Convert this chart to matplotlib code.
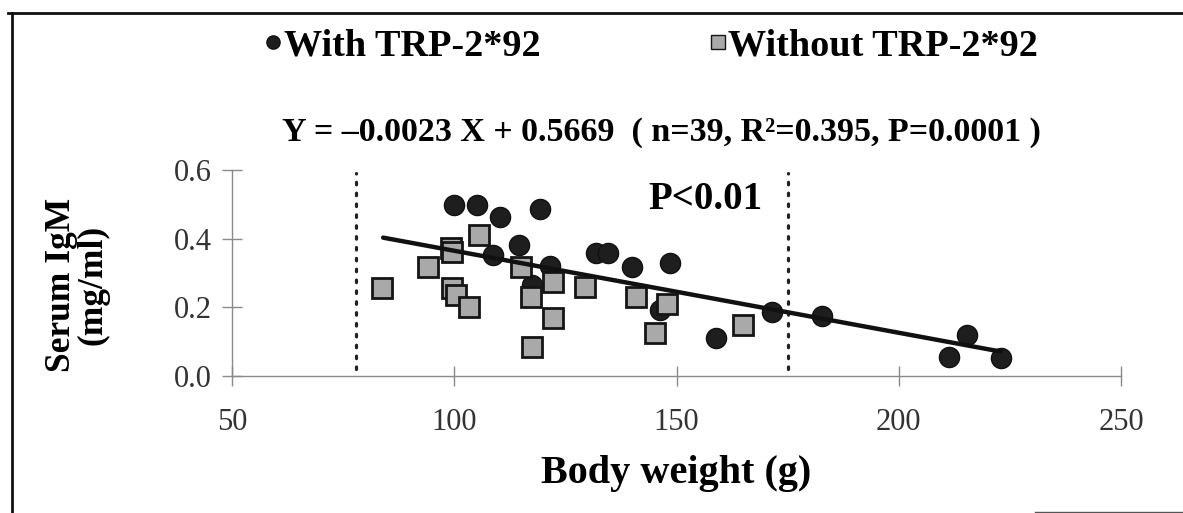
import matplotlib
matplotlib.use("Agg")
import matplotlib.pyplot as plt
from matplotlib.lines import Line2D

# ---- data ----
with_x = [99.9, 105.2, 110.3, 119.4, 114.5, 108.8, 117.4, 121.5, 132.0, 134.6,
          139.9, 148.5, 146.3, 158.8, 171.4, 182.7, 211.2, 215.3, 223.1]
with_y = [0.498, 0.498, 0.462, 0.486, 0.382, 0.352, 0.265, 0.320, 0.357, 0.357,
          0.318, 0.330, 0.192, 0.110, 0.187, 0.175, 0.056, 0.119, 0.052]

without_x = [83.7, 105.6, 99.3, 99.6, 94.2, 99.4, 100.5, 103.4, 115.0, 117.3,
             117.4, 122.3, 122.3, 129.4, 141.0, 147.8, 145.2, 164.9]
without_y = [0.255, 0.411, 0.374, 0.362, 0.317, 0.255, 0.236, 0.202, 0.318, 0.231,
             0.084, 0.275, 0.168, 0.260, 0.231, 0.210, 0.124, 0.149]

trend_x = [84, 223]
trend_y = [0.403, 0.071]

cut_x = [78, 175]
cut_y = [0.02, 0.59]

x_ticks = [50, 100, 150, 200, 250]
y_ticks = [0.0, 0.2, 0.4, 0.6]
y_tick_labels = ["0.0", "0.2", "0.4", "0.6"]

series_labels = ["With TRP-2*92", "Without TRP-2*92"]
equation_text = "Y = \u20130.0023 X + 0.5669  ( n=39, R\u00b2=0.395, P=0.0001 )"
p_text = "P<0.01"

# ---- figure ----
SERIF = ["Liberation Serif", "DejaVu Serif"]
plt.rcParams["font.family"] = SERIF

fig = plt.figure(figsize=(11.83, 5.13), dpi=100)
ax = fig.add_axes([232 / 1183, 1 - 376 / 513, (1121 - 232) / 1183, (376 - 170) / 513])

circle_color = "#1e1e1e"
square_face = "#a9a9a9"

ax.plot(with_x, with_y, linestyle="none", marker="o", markersize=14.5,
        markerfacecolor=circle_color, markeredgecolor="#111111", markeredgewidth=1, zorder=3)
ax.plot(without_x, without_y, linestyle="none", marker="s", markersize=14.5,
        markerfacecolor=square_face, markeredgecolor="#151515", markeredgewidth=2, zorder=4)
ax.plot(trend_x, trend_y, color="#111111", linewidth=3.2, zorder=5, solid_capstyle="round")

for cx in cut_x:
    ax.plot([cx, cx], cut_y, color="#222222", linewidth=2.3,
            linestyle=(0, (0.8, 2.6)), dash_capstyle="round", zorder=2)

ax.set_xlim(50, 250)
ax.set_ylim(0, 0.6)
ax.set_xticks(x_ticks)
ax.set_yticks(y_ticks)
ax.set_yticklabels(y_tick_labels)

for s in ["top", "right"]:
    ax.spines[s].set_visible(False)
for s in ["left", "bottom"]:
    ax.spines[s].set_color("#8a8a8a")
    ax.spines[s].set_linewidth(1.0)

ax.tick_params(axis="both", direction="inout", length=14, width=1.0, color="#8a8a8a",
               labelsize=22, labelcolor="#333333")
ax.tick_params(axis="x", pad=16)
ax.tick_params(axis="y", pad=7.5)

ax.set_xlabel("Body weight (g)", fontsize=29, fontweight="bold")
ax.xaxis.set_label_coords(0.5, -(474 - 376) / 206)
ax.xaxis.label.set_va("center")

ax.set_ylabel("Serum IgM\n(mg/ml)", fontsize=25.5, fontweight="bold", linespacing=0.95)
ax.yaxis.set_label_coords((77 - 232) / 889, (376 - 285) / 206)
ax.yaxis.label.set_va("center")

ax.text(156.4, 0.515, p_text, fontsize=28, fontweight="bold", ha="center", va="center", zorder=6)

fig.text(661 / 1183, 1 - 132 / 513, equation_text, fontsize=24.5, fontweight="bold",
         ha="center", va="center")

handles = [
    Line2D([], [], linestyle="none", marker="o", markersize=9.5,
           markerfacecolor=circle_color, markeredgecolor="#111111"),
    Line2D([], [], linestyle="none", marker="s", markersize=9.5,
           markerfacecolor=square_face, markeredgecolor="#151515", markeredgewidth=1),
]
fig.legend(handles, series_labels, loc="center", bbox_to_anchor=(652 / 1183, 1 - 46 / 513),
           ncol=2, frameon=False, prop={"family": SERIF, "weight": "bold", "size": 27.5},
           handlelength=0.4, handletextpad=0.07, columnspacing=4.45, borderaxespad=0,
           borderpad=0)

# frame lines of the original figure
fig.add_artist(Line2D([8 / 1183, 1.0], [1 - 13 / 513, 1 - 13 / 513], color="#111111", linewidth=2))
fig.add_artist(Line2D([12 / 1183, 12 / 1183], [0, 1 - 13 / 513], color="#111111", linewidth=2))
fig.add_artist(Line2D([1035 / 1183, 1.0], [1.5 / 513, 1.5 / 513], color="#555555", linewidth=1))

fig.savefig("out.png", dpi=100)
